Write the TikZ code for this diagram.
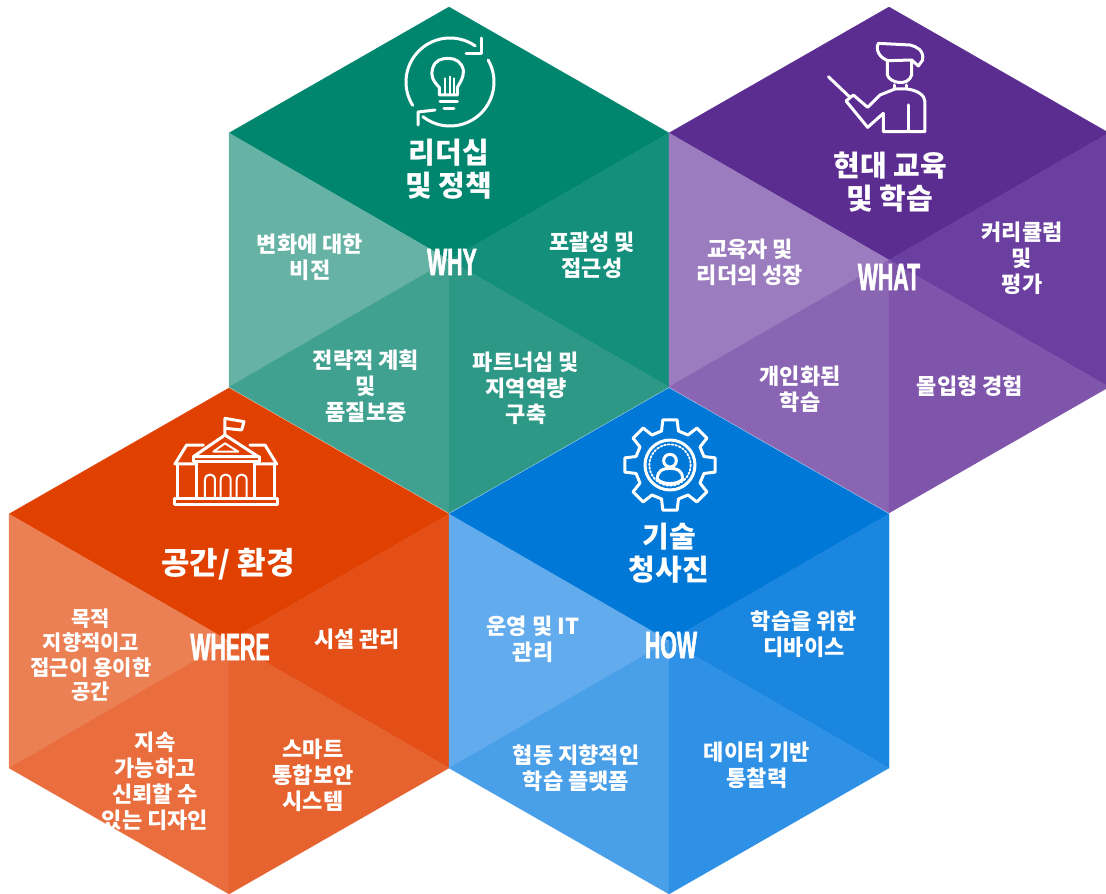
\documentclass[tikz,border=0pt]{standalone}
\usepackage{fontspec}
\setmainfont{Noto Sans CJK KR}
\newfontfamily\cond[FakeStretch=0.56,FakeBold=1.5,UprightFont=* Bold,BoldFont=* Bold]{Liberation Sans}
\newcommand{\hexcell}[7]{%
  \begin{scope}[shift={(#1,#2)}]
    \coordinate (hc) at (0,0);
    \path[seg,fill=#3,draw=#3] (0,-253) -- (-220,-127) -- (hc) -- (220,-127) -- cycle;
    \path[seg,fill=#4,draw=#4] (220,-127) -- (hc) -- (220,127) -- cycle;
    \path[seg,fill=#5,draw=#5] (-220,-127) -- (hc) -- (-220,127) -- cycle;
    \path[seg,fill=#6,draw=#6] (-220,127) -- (hc) -- (0,253) -- cycle;
    \path[seg,fill=#7,draw=#7] (220,127) -- (hc) -- (0,253) -- cycle;
  \end{scope}}
\tikzset{
  seg/.style={line width=0.3pt,line join=round},
  lab/.style={text=white,align=center,inner sep=0pt,font=\fontsize{22}{26}\selectfont\bfseries},
  tight/.style={font=\fontsize{21}{24.5}\selectfont\bfseries},
  head/.style={text=white,align=center,inner sep=0pt,font=\fontsize{29}{33}\selectfont\bfseries},
  wide/.style={font=\fontsize{31}{33}\selectfont\bfseries},
  keyw/.style={text=white,inner sep=0pt,font=\cond\fontsize{38}{38}\selectfont},
  ico/.style={draw=white,line width=3pt,line cap=round,line join=round},
}
\definecolor{ga}{HTML}{00856F}\definecolor{gb}{HTML}{138F7B}\definecolor{gc}{HTML}{66B3A5}\definecolor{gd}{HTML}{41A190}\definecolor{ge}{HTML}{2C9885}
\definecolor{pa}{HTML}{5C2D91}\definecolor{pb}{HTML}{6A3FA0}\definecolor{pc}{HTML}{9B7CBE}\definecolor{pd}{HTML}{8A65B3}\definecolor{pe}{HTML}{7F55AB}
\definecolor{oa}{HTML}{E04000}\definecolor{ob}{HTML}{E34F17}\definecolor{oc}{HTML}{EC8055}\definecolor{od}{HTML}{E96D3D}\definecolor{oe}{HTML}{E6622E}
\definecolor{ba}{HTML}{0078D7}\definecolor{bb}{HTML}{1A86E0}\definecolor{bc}{HTML}{62ACEE}\definecolor{bd}{HTML}{4A9FE9}\definecolor{be}{HTML}{2F91E5}
\begin{document}
\begin{tikzpicture}[x=1pt,y=-1pt]
\useasboundingbox (0,0) rectangle (1106,894);
\begin{scope}
\clip (0,0) rectangle (1106,894);
\hexcell{449}{260}{ga}{gb}{gc}{gd}{ge}
\hexcell{889}{260}{pa}{pb}{pc}{pd}{pe}
\hexcell{229}{641}{oa}{ob}{oc}{od}{oe}
\hexcell{669}{641}{ba}{bb}{bc}{bd}{be}
\end{scope}

% bulb icon
\draw[ico] plot[domain=148:305,samples=40] ({450+44*cos(\x)},{82+44*sin(\x)});
\draw[ico] plot[domain=-30:128,samples=40] ({450+44*cos(\x)},{82+44*sin(\x)});
\draw[ico] (481,38) -- (481,53) -- (466,53);
\draw[ico] (418,125) -- (418,112) -- (435,110);
\begin{scope}[shift={(380,0)},x=.3333pt,y=-.3333pt]
\draw[ico] (178,285) -- (178,262) .. controls (160,245) and (150,225) .. (158,205) .. controls (165,180) and (185,175) .. (205,175) .. controls (225,175) and (245,185) .. (250,210) .. controls (253,230) and (240,248) .. (232,262) -- (232,285) -- cycle;
\draw[ico,line width=2pt] (195,285) -- (195,235) (210,285) -- (210,230) (222,285) -- (222,235);
\draw[ico] (180,305) -- (232,305) (192,327) -- (222,327);
\end{scope}

% teacher icon
\begin{scope}[shift={(800,20)},x=.3333pt,y=-.3333pt]
\draw[ico] (235,70) -- (330,75) .. controls (350,80) and (372,90) .. (368,120) -- (355,138) -- (335,120) -- (265,122) .. controls (240,115) and (225,90) .. cycle;
\draw[ico] (262,122) -- (262,165) .. controls (270,190) and (325,200) .. (335,165) -- (335,122);
\draw[ico] (285,195) -- (285,205) (320,195) -- (320,205);
\draw[ico] (85,170) -- (148,230);
\draw[ico] (285,207) -- (240,225) -- (203,262) -- (160,225) -- (138,243) -- (203,322) -- (250,280) -- (250,335) -- (375,335) -- (375,245) .. controls (375,225) and (350,210) .. (320,207) -- cycle;
\draw[ico] (325,255) -- (325,333);
\end{scope}

% building icon
\begin{scope}[shift={(150,400)},x=.3333pt,y=-.3333pt]
\draw[ico] (225,105) -- (225,55) -- (282,65) -- (275,90) -- (228,85);
\draw[ico] (130,170) -- (225,105) -- (325,170) -- cycle;
\draw[ico,line width=2pt] (190,155) -- (225,130) -- (265,155) -- cycle;
\draw[ico] (130,170) -- (130,185) -- (330,185) -- (330,170);
\draw[ico] (160,135) -- (110,135) -- (75,192) -- (135,192);
\draw[ico] (300,135) -- (345,135) -- (380,192) -- (320,192);
\draw[ico] (82,192) -- (82,295) (375,192) -- (375,295) (140,185) -- (140,295) (315,185) -- (315,295);
\draw[ico] (75,295) rectangle (382,315);
\foreach \wx in {180,227,275}{
  \draw[ico,line width=2pt] (\wx-15,290) -- (\wx-15,240) .. controls (\wx-15,218) and (\wx+15,218) .. (\wx+15,240) -- (\wx+15,290);
}
\end{scope}

% gear icon
\begin{scope}[shift={(600,400)},x=.3333pt,y=-.3333pt]
\draw[ico] ({210+137*cos(9)},{195+137*sin(9)})
  \foreach \k in {0,45,...,315}{
    -- ({210+105*cos(\k+14)},{195+105*sin(\k+14)})
    -- ({210+105*cos(\k+31)},{195+105*sin(\k+31)})
    -- ({210+137*cos(\k+36)},{195+137*sin(\k+36)})
    -- ({210+137*cos(\k+54)},{195+137*sin(\k+54)})
  } -- cycle;
\draw[ico] (210,195) circle[radius=75];
\draw[ico,line width=1.8pt,dotted] (210,195) circle[radius=62];
\draw[ico] (210,182) circle[radius=19];
\draw[ico] (172,238) .. controls (172,210) and (190,205) .. (210,205) .. controls (230,205) and (248,210) .. (248,238);
\draw[ico] (172,238) .. controls (190,255) and (230,255) .. (248,238);
\end{scope}

% green
\node[head] (h1) at (449,169) {리더십\\및 정책};
\node[keyw] (k1) at (452,262) {WHY};
\node[lab] (g1) at (310,257) {변화에 대한\\비전};
\node[lab] (g2) at (592,255) {포괄성 및\\접근성};
\node[lab] (g3) at (366,386) {전략적 계획\\및\\품질보증};
\node[lab] (g4) at (526,388) {파트너십 및\\지역역량\\구축};
% purple
\node[head] (h2) at (890,182) {현대 교육\\및 학습};
\node[keyw] (k2) at (889,277) {WHAT};
\node[lab] (p1) at (750,262) {교육자 및\\리더의 성장};
\node[lab] (p2) at (1022,258) {커리큘럼\\및\\평가};
\node[lab] (p3) at (800,389) {개인화된\\학습};
\node[lab] (p4) at (970,386) {몰입형 경험};
% orange
\node[head,wide] (h3) at (228,564) {공간/ 환경};
\node[keyw] (k3) at (230,647) {WHERE};
\node[lab,tight] (o1) at (91,655) {목적\\지향적이고\\접근이 용이한\\공간};
\node[lab] (o2) at (357,639) {시설 관리};
\node[lab] (o3) at (155,781) {지속\\가능하고\\신뢰할 수\\있는 디자인};
\node[lab] (o4) at (313,775) {스마트\\통합보안\\시스템};
% blue
\node[head] (h4) at (669,553) {기술\\청사진};
\node[keyw] (k4) at (671,645) {HOW};
\node[lab] (b1) at (533,639) {운영 및 IT\\관리};
\node[lab] (b2) at (804,634) {학습을 위한\\디바이스};
\node[lab] (b3) at (576,768) {협동 지향적인\\학습 플랫폼};
\node[lab] (b4) at (757,765) {데이터 기반\\통찰력};
\end{tikzpicture}
\end{document}
